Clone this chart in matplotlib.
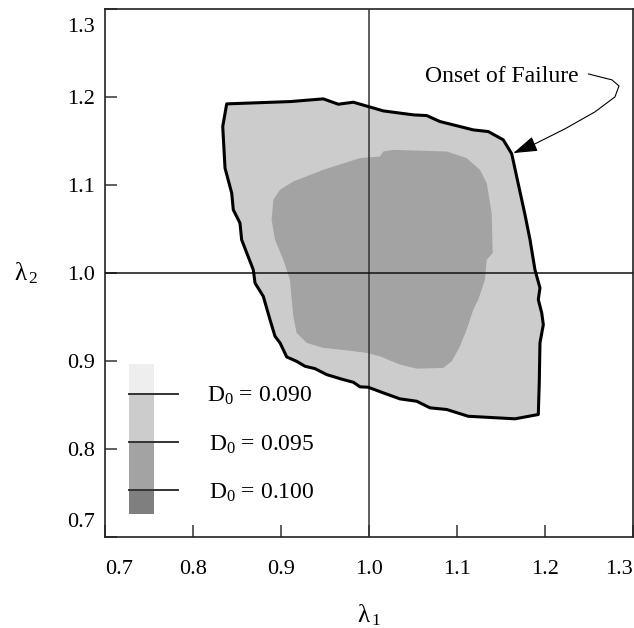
import matplotlib
matplotlib.use("Agg")
import matplotlib.pyplot as plt
from matplotlib.path import Path
from matplotlib.patches import Polygon, Rectangle, FancyArrowPatch
from matplotlib.transforms import ScaledTranslation

plt.rcParams['font.family'] = ['Liberation Serif', 'DejaVu Serif']
plt.rcParams['mathtext.fontset'] = 'custom'
plt.rcParams['mathtext.rm'] = 'Liberation Serif'
plt.rcParams['mathtext.it'] = 'Liberation Serif:italic'

# Outer region, D0 = 0.095 level (outline = onset of failure)
outer_l1 = [0.8383, 0.9102, 0.9481, 0.9651, 0.9822, 1.0163, 1.0503, 1.0656, 1.0807,
            1.1185, 1.1356, 1.1526, 1.1622, 1.1678, 1.1773, 1.1830, 1.1886, 1.1943,
            1.1924, 1.1963, 1.1981, 1.1943, 1.1935, 1.1924, 1.1659, 1.1128, 1.0883,
            1.0693, 1.0542, 1.0352, 1.0163, 0.9992, 0.9898, 0.9822, 0.9708, 0.9519,
            0.9386, 0.9273, 0.9178, 0.9065, 0.8989, 0.8932, 0.8875, 0.8799, 0.8705,
            0.8685, 0.8553, 0.8534, 0.8458, 0.8440, 0.8364, 0.8338]
outer_l2 = [1.1924, 1.1950, 1.1981, 1.1920, 1.1943, 1.1844, 1.1799, 1.1791, 1.1723,
            1.1628, 1.1609, 1.1515, 1.1356, 1.1098, 1.0662, 1.0378, 1.0037, 0.9830,
            0.9697, 0.9545, 0.9412, 0.9205, 0.8750, 0.8390, 0.8341, 0.8370, 0.8447,
            0.8466, 0.8541, 0.8568, 0.8636, 0.8700, 0.8705, 0.8757, 0.8787, 0.8844,
            0.8912, 0.8939, 0.8995, 0.9045, 0.9205, 0.9280, 0.9469, 0.9734, 0.9886,
            1.0037, 1.0378, 1.0568, 1.0719, 1.0909, 1.1193, 1.1666]

# Inner region, D0 = 0.100 level
inner_l1 = [1.0125, 1.0163, 1.0276, 1.0883, 1.1110, 1.1261, 1.1338, 1.1394, 1.1406,
            1.1338, 1.1318, 1.1242, 1.1185, 1.1110, 1.1034, 1.0940, 1.0844, 1.0542,
            1.0352, 1.0125, 0.9974, 0.9747, 0.9481, 0.9292, 0.9178, 0.9140, 0.9122,
            0.9102, 0.9026, 0.8932, 0.8894, 0.8913, 0.8989, 0.9140, 0.9481, 0.9898]
inner_l2 = [1.1325, 1.1382, 1.1401, 1.1382, 1.1307, 1.1174, 1.1023, 1.0682, 1.0227,
            1.0151, 0.9924, 0.9697, 0.9583, 0.9356, 0.9166, 0.8995, 0.8920, 0.8912,
            0.8958, 0.9052, 0.9091, 0.9120, 0.9148, 0.9205, 0.9318, 0.9507, 0.9697,
            0.9924, 1.0151, 1.0378, 1.0606, 1.0833, 1.0947, 1.1041, 1.1174, 1.1307]

# Annotation leader curve (text -> arrow tip)
leader_l1 = [1.2492, 1.2625, 1.2761, 1.2841, 1.2795, 1.2568, 1.2227, 1.1886, 1.1640]
leader_l2 = [1.2265, 1.2231, 1.2197, 1.2128, 1.2003, 1.1833, 1.1640, 1.1469, 1.1364]

ticks = [0.7, 0.8, 0.9, 1.0, 1.1, 1.2, 1.3]
tick_labels = ['0.7', '0.8', '0.9', '1.0', '1.1', '1.2', '1.3']

legend_labels = ['0.090', '0.095', '0.100']
legend_colors = ['#eeeeee', '#cccccc', '#a3a3a3', '#7f7f7f']

fig = plt.figure(figsize=(6.34, 6.28), dpi=100)
ax = fig.add_axes([0.1656, 0.1454, 0.8328, 0.8398])
ax.set_xlim(0.7, 1.3)
ax.set_ylim(0.7, 1.3)

ax.add_patch(Polygon(list(zip(outer_l1, outer_l2)), closed=True, facecolor='#cccccc',
                     edgecolor='none', zorder=1))
ax.add_patch(Polygon(list(zip(inner_l1, inner_l2)), closed=True, facecolor='#a3a3a3',
                     edgecolor='none', zorder=2))
ax.axvline(1.0, color='#333333', lw=1.1, zorder=3)
ax.axhline(1.0, color='#111111', lw=1.1, zorder=3)
ax.add_patch(Polygon(list(zip(outer_l1, outer_l2)), closed=True, facecolor='none',
                     edgecolor='black', lw=2.2, joinstyle='round', zorder=4))

# "Onset of Failure" annotation
ax.text(1.0636, 1.2177, 'Onset of Failure', fontsize=17, va='baseline', ha='left')
leader = Path(list(zip(leader_l1, leader_l2)))
ax.add_patch(FancyArrowPatch(path=leader, arrowstyle='-|>,head_length=0.75,head_width=0.24',
                             mutation_scale=20, color='black', lw=0.8, zorder=5))

# legend: stacked gray swatch with level lines
sw_x0, sw_x1, line_x1 = 0.7273, 0.7557, 0.7826
edges = [0.8969, 0.8628, 0.8075, 0.7530, 0.7257]
for i, c in enumerate(legend_colors):
    ax.add_patch(Rectangle((sw_x0, edges[i + 1]), sw_x1 - sw_x0, edges[i] - edges[i + 1],
                           facecolor=c, edgecolor='none', zorder=2))
text_x = [0.8159, 0.8185, 0.8185]
for i, lab in enumerate(legend_labels):
    ax.plot([sw_x0, line_x1], [edges[i + 1]] * 2, color='#333333', lw=1.4, zorder=3)
    ax.text(text_x[i], edges[i + 1] - 0.003, r'$\mathrm{D_0}$ = ' + lab, fontsize=17,
            va='center', ha='left')

ax.set_xticks(ticks)
ax.set_xticklabels(tick_labels)
ax.set_yticks(ticks)
ax.set_yticklabels(tick_labels)
ax.tick_params(direction='in', length=8.5, width=1.1, color='#333333', labelsize=16)
ax.tick_params(axis='x', pad=17)
ax.tick_params(axis='y', pad=7)
for s in ax.spines.values():
    s.set_linewidth(1.2)
    s.set_color('#222222')

# pull the end labels inside the frame
xl = ax.get_xticklabels()
yl = ax.get_yticklabels()
xl[0].set_transform(xl[0].get_transform() + ScaledTranslation(0.145, 0, fig.dpi_scale_trans))
xl[-1].set_transform(xl[-1].get_transform() + ScaledTranslation(-0.14, 0, fig.dpi_scale_trans))
yl[0].set_transform(yl[0].get_transform() + ScaledTranslation(0, 0.167, fig.dpi_scale_trans))
yl[-1].set_transform(yl[-1].get_transform() + ScaledTranslation(0, -0.16, fig.dpi_scale_trans))

ax.set_xlabel(r'$\mathrm{\lambda}_{\,1}$', fontsize=18, va='center')
ax.xaxis.set_label_coords(0.5, -0.1485)
ax.set_ylabel(r'$\mathrm{\lambda}_{\,2}$', fontsize=18, rotation=0, ha='center', va='center')
ax.yaxis.set_label_coords(-0.1496, 0.5)

fig.savefig('out.png', dpi=100)
